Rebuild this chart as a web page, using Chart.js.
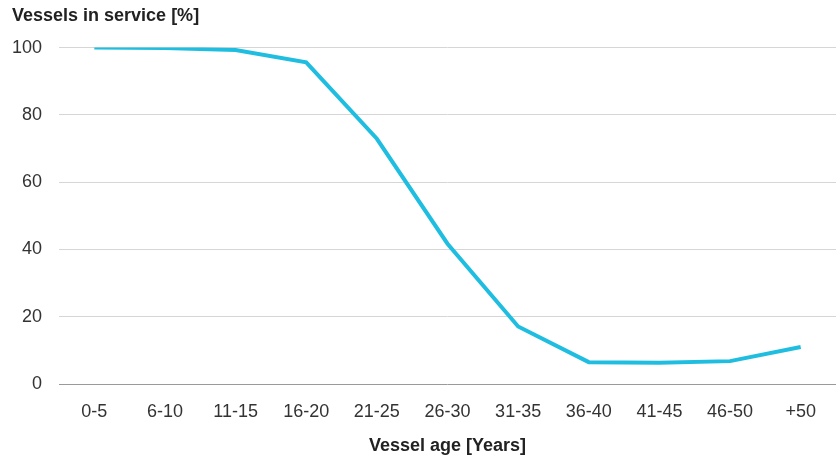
<!DOCTYPE html>
<html>
<head>
<meta charset="utf-8">
<script src="https://cdn.jsdelivr.net/npm/chart.js@4"></script>
<style>
  html, body { margin: 0; padding: 0; background: #fff; }
  #wrap { width: 836px; height: 457px; }
</style>
</head>
<body>
<div id="wrap"><canvas id="ageChart"></canvas></div>
<script>
const ageGroups = ['0-5', '6-10', '11-15', '16-20', '21-25', '26-30', '31-35', '36-40', '41-45', '46-50', '+50'];
const inService = [100, 99.9, 99.3, 95.6, 72.9, 41.7, 17.1, 6.5, 6.3, 6.8, 11];
const yTicks = [0, 20, 40, 60, 80, 100];

const font = "'Liberation Sans', Arial, Helvetica, sans-serif";

new Chart(document.getElementById('ageChart'), {
  type: 'line',
  data: {
    labels: ageGroups,
    datasets: [{
      data: inService,
      borderColor: '#1fbde0',
      borderWidth: 4,
      pointRadius: 0,
      tension: 0,
      fill: false
    }]
  },
  options: {
    responsive: true,
    maintainAspectRatio: false,
    animation: false,
    layout: { padding: { left: 12, top: 0, right: 0, bottom: 0 } },
    plugins: {
      legend: { display: false },
      tooltip: { enabled: false },
      title: {
        display: true,
        text: 'Vessels in service [%]',
        align: 'start',
        color: '#222',
        font: { family: font, size: 18, weight: 'bold' },
        padding: { top: 5, bottom: 21 }
      }
    },
    scales: {
      x: {
        offset: true,
        grid: { display: false, drawTicks: false },
        border: { display: false },
        ticks: { color: '#333', font: { family: font, size: 18 }, padding: 17, maxRotation: 0 },
        title: {
          display: true,
          text: 'Vessel age [Years]',
          color: '#222',
          font: { family: font, size: 18, weight: 'bold' },
          padding: { top: 11, bottom: 0 }
        },
        afterFit: function(scale) { scale.height = 73; }
      },
      y: {
        min: 0,
        max: 100,
        afterBuildTicks: function(scale) { scale.ticks = yTicks.map(v => ({ value: v })); },
        grid: {
          drawTicks: false,
          lineWidth: 1,
          color: function(ctx) { return ctx.tick && ctx.tick.value === 0 ? '#9a9a9a' : '#d6d6d6'; }
        },
        border: { display: false },
        ticks: { color: '#333', font: { family: font, size: 18 }, padding: 17 },
        afterFit: function(scale) { scale.width = 47; }
      }
    }
  }
});
</script>
</body>
</html>
